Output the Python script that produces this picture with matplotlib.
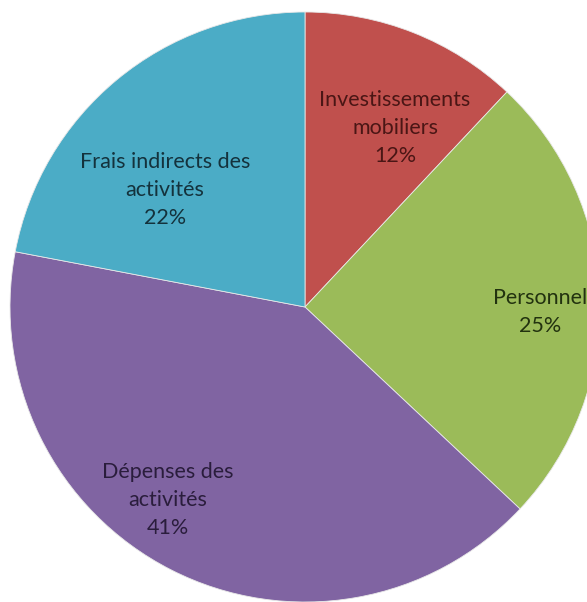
import matplotlib
matplotlib.use("Agg")
import matplotlib.pyplot as plt

labels = ["Investissements\nmobiliers", "Personnel", "Dépenses des\nactivités", "Frais indirects des\nactivités"]
values = [12, 25, 41, 22]
colors = ["#C0504D", "#9BBB59", "#8064A2", "#4BACC6"]
text_colors = ["#4a1615", "#22320f", "#2a1d3c", "#14323c"]
# label positions in pixel coords (x, y from top)
label_px = [(395, 128), (540, 312), (168, 500), (165, 190)]

W, H = 587, 602
fig = plt.figure(figsize=(W / 100, H / 100), dpi=100)
ax = fig.add_axes([0, 0, 1, 1])
cx, cy, R = 305, 307, 295
ax.axis("off")

wedges, _ = ax.pie(values, colors=colors, startangle=90, counterclock=False,
                   radius=1, center=(0, 0),
                   wedgeprops=dict(edgecolor="#e8e8e8", linewidth=0.6))
ax.set_aspect("auto")
ax.set_xlim(-cx / R, (W - cx) / R)
ax.set_ylim(-(H - cy) / R, cy / R)

for lab, v, (px, py), tc in zip(labels, values, label_px, text_colors):
    x = (px - cx) / R
    y = (cy - py) / R
    ax.text(x, y, f"{lab}\n{v}%", ha="center", va="center", fontsize=15.5,
            family=["Lato", "DejaVu Sans"], color=tc, linespacing=1.5)

fig.savefig("out.png", dpi=100)
